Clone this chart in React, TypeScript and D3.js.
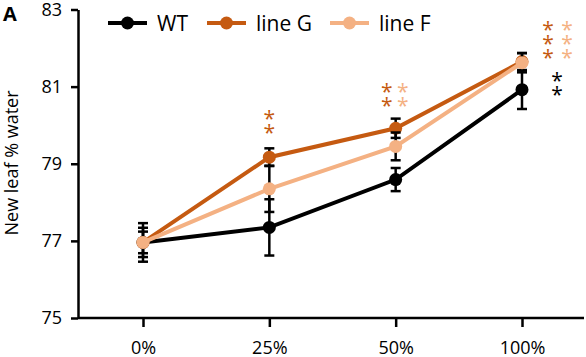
import React, { useEffect, useRef } from 'react';
import * as d3 from 'd3';

// treatment levels on the x axis
const categories = ['0%', '25%', '50%', '100%'];
const yTicks = [75, 77, 79, 81, 83];

// series means and standard errors (new leaf % water)
const seriesNames = ['WT', 'line G', 'line F'];
const wtMean = [76.96, 77.35, 78.59, 80.92];
const wtErr = [0.5, 0.73, 0.3, 0.5];
const lineGMean = [76.96, 79.17, 79.92, 81.65];
const lineGErr = [0.38, 0.23, 0.25, 0.22];
const lineFMean = [76.96, 78.35, 79.45, 81.62];
const lineFErr = [0.28, 0.6, 0.36, 0.25];

// significance marks: category, series, number of stars, value where the stack starts
const sigCategory = ['25%', '50%', '50%', '100%', '100%', '100%'];
const sigSeries = ['line G', 'line G', 'line F', 'line G', 'line F', 'WT'];
const sigCount = [2, 2, 2, 3, 3, 2];
const sigTop = [80.27, 80.96, 80.96, 82.57, 82.57, 81.25];

const colors: Record<string, string> = { WT: '#000000', 'line G': '#c55a11', 'line F': '#f4b183' };

const App = () => {
  const svgRef = useRef<SVGSVGElement>(null);

  useEffect(() => {
    const width = 586;
    const height = 357;
    const font = '"Open Sans", sans-serif';

    const svg = d3.select(svgRef.current).attr('width', width).attr('height', height);
    svg.selectAll('*').remove();

    const x = d3.scalePoint<string>().domain(categories).range([143, 522]);
    const y = d3.scaleLinear().domain([75, 83]).range([318, 9.5]);

    // y axis
    const yAxis = svg
      .append('g')
      .attr('transform', 'translate(78,0)')
      .call(d3.axisLeft(y).tickValues(yTicks).tickSize(7).tickSizeOuter(0).tickPadding(9));
    yAxis.select('.domain').attr('stroke-width', 2.5);
    yAxis.selectAll('.tick line').attr('stroke-width', 2.5);
    yAxis.selectAll('.tick text').attr('font-family', font).attr('font-size', 18).attr('fill', '#000');

    // x axis
    const xAxis = svg
      .append('g')
      .attr('transform', 'translate(0,318)')
      .call(d3.axisBottom(x).tickSize(9).tickSizeOuter(0).tickPadding(14));
    xAxis.select('.domain').attr('d', 'M78,0H584').attr('stroke-width', 2.5);
    xAxis.selectAll('.tick line').attr('stroke-width', 2.5);
    xAxis.selectAll('.tick text').attr('font-family', font).attr('font-size', 18).attr('fill', '#000');

    // y label
    svg
      .append('text')
      .attr('transform', 'translate(18,163) rotate(-90)')
      .attr('text-anchor', 'middle')
      .attr('font-family', font)
      .attr('font-size', 18)
      .text('New leaf % water');

    // panel letter
    svg
      .append('text')
      .attr('x', 3)
      .attr('y', 21)
      .attr('font-family', font)
      .attr('font-weight', 'bold')
      .attr('font-size', 20)
      .text('A');

    const series = [
      { name: 'WT', mean: wtMean, err: wtErr },
      { name: 'line G', mean: lineGMean, err: lineGErr },
      { name: 'line F', mean: lineFMean, err: lineFErr },
    ];

    const line = d3
      .line<number>()
      .x((_, i) => x(categories[i]) as number)
      .y((d) => y(d));

    series.forEach((s) => {
      const g = svg.append('g');
      // error bars (always black)
      s.mean.forEach((m, i) => {
        const cx = x(categories[i]) as number;
        const top = y(m + s.err[i]);
        const bot = y(m - s.err[i]);
        g.append('line').attr('x1', cx).attr('x2', cx).attr('y1', top).attr('y2', bot)
          .attr('stroke', '#000').attr('stroke-width', 2.5);
        [top, bot].forEach((yy) => {
          g.append('line').attr('x1', cx - 5).attr('x2', cx + 5).attr('y1', yy).attr('y2', yy)
            .attr('stroke', '#000').attr('stroke-width', 2.5);
        });
      });
      g.append('path')
        .datum(s.mean)
        .attr('fill', 'none')
        .attr('stroke', colors[s.name])
        .attr('stroke-width', 4)
        .attr('d', line);
      g.selectAll('circle')
        .data(s.mean)
        .join('circle')
        .attr('cx', (_, i) => x(categories[i]) as number)
        .attr('cy', (d) => y(d))
        .attr('r', 6.5)
        .attr('fill', colors[s.name]);
    });

    // significance stars
    const starDx: Record<string, Record<string, number>> = {
      '25%': { 'line G': 0 },
      '50%': { 'line G': -9, 'line F': 7 },
      '100%': { 'line G': 26, 'line F': 45, WT: 35 },
    };
    const starStep = 14;
    sigCategory.forEach((c, k) => {
      const cx = (x(c) as number) + starDx[c][sigSeries[k]];
      for (let j = 0; j < sigCount[k]; j++) {
        svg
          .append('text')
          .attr('x', cx)
          .attr('y', y(sigTop[k]) + j * starStep + 11)
          .attr('text-anchor', 'middle')
          .attr('font-family', font)
          .attr('font-size', 21)
          .attr('fill', colors[sigSeries[k]])
          .text('*');
      }
    });

    // legend
    const legendX = [108, 207, 330];
    seriesNames.forEach((n, i) => {
      const lx = legendX[i];
      const ly = 23;
      svg.append('line').attr('x1', lx).attr('x2', lx + 39).attr('y1', ly).attr('y2', ly)
        .attr('stroke', colors[n]).attr('stroke-width', 4);
      svg.append('circle').attr('cx', lx + 19.5).attr('cy', ly).attr('r', 6.5).attr('fill', colors[n]);
      svg.append('text')
        .attr('x', lx + 49)
        .attr('y', ly + 8)
        .attr('font-family', font)
        .attr('font-size', 21)
        .text(n);
    });
  }, []);

  return <svg ref={svgRef} style={{ position: 'absolute', left: 0, top: 0 }}></svg>;
};

export default App;
